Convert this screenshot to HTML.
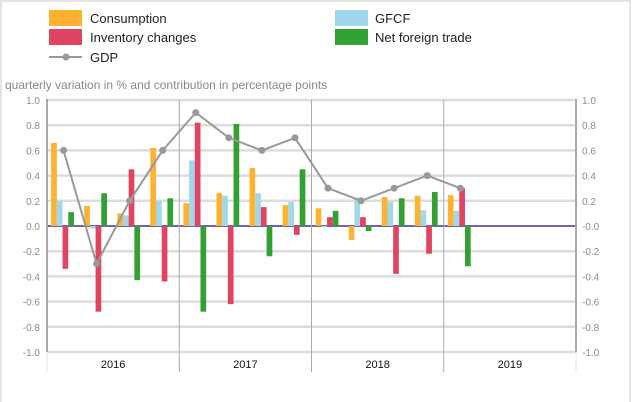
<!DOCTYPE html>
<html><head><meta charset="utf-8"><style>
body{margin:0;background:#fff;}
svg{display:block;font-family:"Liberation Sans",sans-serif;}
</style></head><body>
<svg id="c" width="632" height="402">
<rect x="1" y="1" width="629" height="420" fill="none" stroke="#e4e4e4" stroke-width="2"/>
<g>
<g><rect x="49" y="10" width="33" height="16" fill="#fdb232"/><text x="90" y="23" font-size="13" fill="#222">Consumption</text></g>
<g><rect x="49" y="29" width="33" height="16" fill="#e04462"/><text x="90" y="42" font-size="13" fill="#222">Inventory changes</text></g>
<g><line x1="49" y1="57" x2="82" y2="57" stroke="#999" stroke-width="2"/><circle cx="66" cy="57" r="3.5" fill="#999"/><text x="90" y="62" font-size="13" fill="#222">GDP</text></g>
<g><rect x="335" y="10" width="33" height="16" fill="#a0d7ec"/><text x="375" y="23" font-size="13" fill="#222">GFCF</text></g>
<g><rect x="335" y="29" width="33" height="16" fill="#33a033"/><text x="375" y="42" font-size="13" fill="#222">Net foreign trade</text></g>
</g>
<text x="5" y="89" font-size="12" fill="#888">quarterly variation in % and contribution in percentage points</text>
<g id="grid"></g><g id="bars"></g><g id="line"></g><g id="axes"></g>
</svg>
<script>
const years=["2016","2017","2018","2019"];
const consumption=[0.66,0.16,0.10,0.62,0.18,0.26,0.46,0.165,0.14,-0.11,0.23,0.24,0.245];
const gfcf=[0.20,-0.02,0.085,0.20,0.52,0.24,0.26,0.19,-0.01,0.225,0.19,0.125,0.12];
const inventory=[-0.34,-0.68,0.45,-0.44,0.82,-0.62,0.15,-0.07,0.07,0.07,-0.38,-0.22,0.30];
const netTrade=[0.11,0.26,-0.43,0.22,-0.68,0.81,-0.24,0.45,0.12,-0.04,0.22,0.27,-0.32];
const gdp=[0.60,-0.30,0.20,0.60,0.90,0.70,0.60,0.70,0.30,0.20,0.30,0.40,0.30];
const leftTicks=["1.0","0.8","0.6","0.4","0.2","0.0","-0.2","-0.4","-0.6","-0.8","-1.0"];
const rightTicks=["1.0","0.8","0.6","0.4","0.2","-0.0","-0.2","-0.4","-0.6","-0.8","-1.0"];
const NS="http://www.w3.org/2000/svg";
const X0=47,X1=576,Y0=100,Y1=352;
const qw=(X1-X0)/16;
const y=v=>Y0+(1-v)/2*(Y1-Y0);
const xq=i=>X0+qw*(i+0.5);
function mk(p,t,a){const e=document.createElementNS(NS,t);for(const k in a)e.setAttribute(k,a[k]);document.getElementById(p).appendChild(e);return e;}
const grid=document.getElementById('grid');
leftTicks.forEach((t,i)=>{const v=1-i*0.2;
 const l=mk('grid','line',{x1:X0,x2:X1,y1:y(v),y2:y(v),stroke:Math.abs(v)<1e-9?'#6b68a8':'#dcdcdc','stroke-width':Math.abs(v)<1e-9?2:2.5});
 
 
 const a=mk('axes','text',{x:40,y:y(v)+4,'text-anchor':'end','font-size':10,fill:'#8a8a9a'});a.textContent=t;
 
 
 const b=mk('axes','text',{x:582,y:y(v)+4,'font-size':10,fill:'#8a8a9a'});b.textContent=rightTicks[i];
 
 
});
years.forEach((yr,i)=>{const x=X0+i*4*qw;
 if(i>0){const l=mk('grid','line',{x1:x,x2:x,y1:Y0,y2:372,stroke:'#aaa','stroke-width':1});
 
 }
 const t=mk('axes','text',{x:x+2*qw,y:368,'text-anchor':'middle','font-size':11,fill:'#111'});t.textContent=yr;
 
 
});
let ax=mk('axes','line',{x1:X0,x2:X0,y1:Y0-1,y2:Y1,stroke:'#aaa','stroke-width':2});


let ax2=mk('axes','line',{x1:X1,x2:X1,y1:Y0-1,y2:Y1,stroke:'#aaa','stroke-width':2});


mk('axes','line',{x1:X0,x2:X0,y1:Y1,y2:372,stroke:'#e4e4e4','stroke-width':1});
mk('axes','line',{x1:X1,x2:X1,y1:Y1,y2:372,stroke:'#e4e4e4','stroke-width':1});
const series=[[consumption,'#fdb232','consumption'],[gfcf,'#a0d7ec','gfcf'],[inventory,'#e04462','inventory'],[netTrade,'#33a033','net-trade']];
const bw=5.7;
series.forEach(([arr,col,nm],s)=>{arr.forEach((v,i)=>{
 const x=xq(i)-1-2*bw+s*bw;const y0=y(0),yv=y(v);
 const r=mk('bars','rect',{x:x,y:Math.min(y0,yv),width:bw,height:Math.max(Math.abs(yv-y0),0.5),fill:col});
 
 
});});
const pl=mk('line','polyline',{points:gdp.map((v,i)=>xq(i)+','+y(v)).join(' '),fill:'none',stroke:'#999','stroke-width':2});


gdp.forEach((v,i)=>{const c=mk('line','circle',{cx:xq(i),cy:y(v),r:3.5,fill:'#999'});
 
 });
</script>
</body></html>
